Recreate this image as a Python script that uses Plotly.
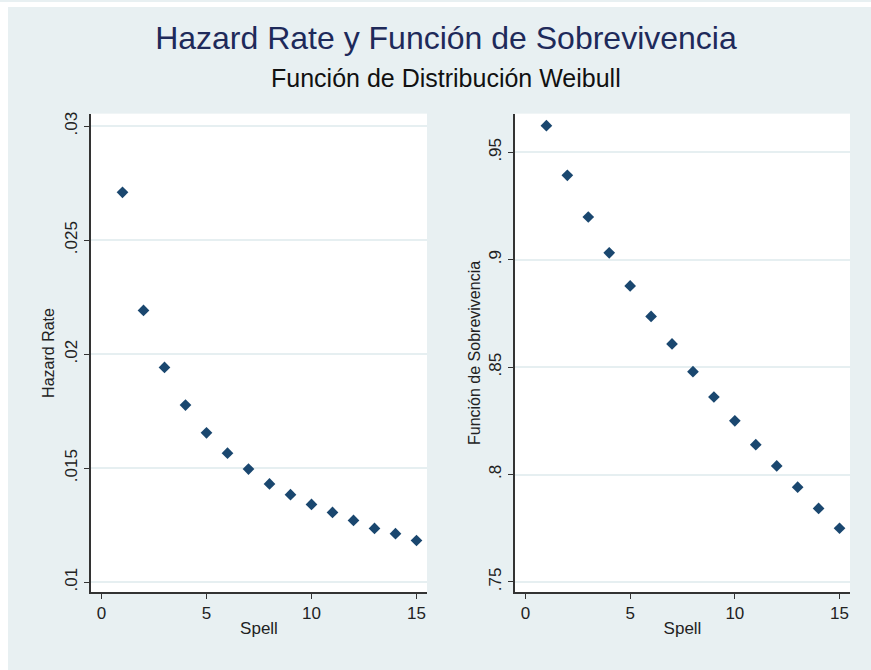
import plotly.graph_objects as go
from plotly.subplots import make_subplots

# Spell periods and estimated Weibull curves
spell = list(range(1, 16))
hazard_rate = [0.0271, 0.02192, 0.01942, 0.01777, 0.01655, 0.01566, 0.01496,
               0.01431, 0.01384, 0.01341, 0.01306, 0.01271, 0.01236, 0.01213, 0.01183]
survival = [0.9624, 0.9393, 0.9199, 0.9032, 0.8878, 0.8736, 0.8608, 0.8479,
            0.8361, 0.8250, 0.8139, 0.8040, 0.7941, 0.7842, 0.7750]

x_ticks = [0, 5, 10, 15]
hazard_ticks = [0.01, 0.015, 0.02, 0.025, 0.03]
hazard_labels = [".01", ".015", ".02", ".025", ".03"]
surv_ticks = [0.75, 0.8, 0.85, 0.9, 0.95]
surv_labels = [".75", ".8", ".85", ".9", ".95"]

W, H = 871, 670
BG = "#E8F0F2"
MARK = "#1A476F"
FONT = "Liberation Sans, Arial, sans-serif"
TXT = "#222"

fig = make_subplots(rows=1, cols=2)

fig.add_trace(go.Scatter(x=spell, y=hazard_rate, mode="markers",
                         marker=dict(symbol="diamond", size=9, color=MARK),
                         showlegend=False), row=1, col=1)
fig.add_trace(go.Scatter(x=spell, y=survival, mode="markers",
                         marker=dict(symbol="diamond", size=9, color=MARK),
                         showlegend=False), row=1, col=2)

ydom = [1 - 592 / H, 1 - 112 / H]

common_x = dict(range=[-0.5, 15.5], tickvals=x_ticks, ticks="outside", ticklen=5,
                tickcolor="#333", showline=True, linecolor="#333", linewidth=1.5,
                showgrid=False, zeroline=False,
                tickfont=dict(family=FONT, size=17, color=TXT),
                title=dict(text="Spell", font=dict(family=FONT, size=17, color=TXT),
                           standoff=0))
common_y = dict(ticks="outside", ticklen=5, tickcolor="#333", tickangle=-90,
                showline=True, linecolor="#333", linewidth=1.5,
                showgrid=True, gridcolor="#E6EFF1", gridwidth=1.5, zeroline=False,
                tickfont=dict(family=FONT, size=17, color=TXT))

fig.update_xaxes(**common_x)
fig.update_yaxes(**common_y)

fig.update_layout(
    xaxis=dict(domain=[91 / W, 427 / W]),
    xaxis2=dict(domain=[515 / W, 850 / W]),
    yaxis=dict(domain=ydom, range=[0.00956, 0.03055], tickvals=hazard_ticks,
               ticktext=hazard_labels,
               title=dict(text="Hazard Rate", font=dict(family=FONT, size=16, color=TXT),
                          standoff=4)),
    yaxis2=dict(domain=ydom, range=[0.7452, 0.9680], tickvals=surv_ticks,
                ticktext=surv_labels,
                title=dict(text="Función de Sobrevivencia",
                           font=dict(family=FONT, size=16, color=TXT), standoff=2)),
    width=W, height=H,
    margin=dict(l=0, r=0, t=0, b=0),
    paper_bgcolor=BG,
    plot_bgcolor="white",
    title=dict(text="Hazard Rate y Función de Sobrevivencia",
               x=0.512, xanchor="center", y=1 - 38 / H, yanchor="middle",
               font=dict(family=FONT, size=32, color="#1E2A5A")),
    annotations=[dict(text="Función de Distribución Weibull", xref="paper", yref="paper",
                      x=0.512, y=1 - 76 / H, xanchor="center", yanchor="middle",
                      showarrow=False, font=dict(family=FONT, size=25, color="#111"))],
    # thin white border along the top and left edges
    shapes=[
        dict(type="rect", xref="paper", yref="paper", x0=0, x1=8 / W, y0=0, y1=1,
             fillcolor="white", line=dict(width=0)),
        dict(type="rect", xref="paper", yref="paper", x0=0, x1=1, y0=1 - 5 / H, y1=1,
             fillcolor="white", line=dict(width=0)),
    ],
)

fig.write_html("out.html")
